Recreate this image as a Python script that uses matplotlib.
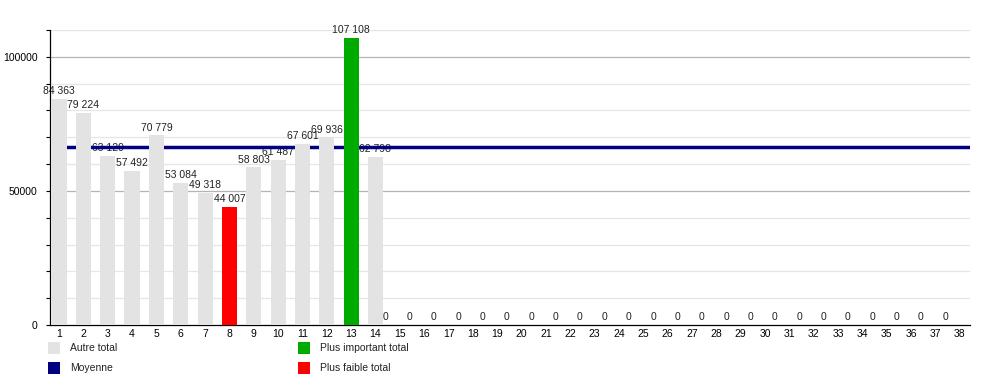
import matplotlib
matplotlib.use("Agg")
import matplotlib.pyplot as plt
from matplotlib.patches import Rectangle
import numpy as np

plt.rcParams["font.family"] = ["Liberation Sans", "DejaVu Sans"]

categories = list(range(1, 39))
totaux = [84363, 79224, 63129, 57492, 70779, 53084, 49318, 44007, 58803,
          61487, 67601, 69936, 107108, 62798] + [0] * 24
labels_legende = ["Autre total", "Moyenne", "Plus important total", "Plus faible total"]

GRIS = "#e3e3e3"
VERT = "#00aa00"
ROUGE = "#ff0000"
BLEU = "#000080"


def fmt(v):
    return f"{v:,}".replace(",", " ")


def main():
    x = np.array(categories)
    vals = np.array(totaux)
    non_nuls = vals[vals > 0]
    moyenne = non_nuls.mean()

    couleurs = [GRIS] * len(vals)
    couleurs[int(np.argmax(vals))] = VERT
    couleurs[int(np.argmin(np.where(vals > 0, vals, np.inf)))] = ROUGE

    fig = plt.figure(figsize=(10, 3.75), dpi=100)
    ax = fig.add_axes([0.05, 0.1333, 0.92, 0.7867])

    # grille
    for y in range(10000, 110001, 10000):
        major = y % 50000 == 0
        ax.axhline(y, color="#b4b4b4" if major else "#e6e6e6", lw=0.9, zorder=0)

    ax.axhline(moyenne, color=BLEU, lw=2.5, zorder=2)
    ax.bar(x, vals, width=0.62, color=couleurs, zorder=3)

    for xi, v in zip(x, vals):
        if v > 0:
            ax.text(xi, v + 1000, fmt(v), ha="center", va="bottom", fontsize=7.5,
                    color="#222222", zorder=1)
        else:
            ax.text(xi - 0.6, 1000, "0", ha="center", va="bottom", fontsize=7.5,
                    color="#222222", zorder=1)

    ax.set_xlim(0.63, 38.42)
    ax.set_ylim(0, 110000)
    ax.set_xticks(x)
    ax.set_xticklabels([str(c) for c in categories], fontsize=7.5)
    ax.tick_params(axis="x", length=0, pad=3)
    ax.set_yticks([0, 50000, 100000])
    ax.set_yticklabels(["0", "50000", "100000"], fontsize=7.5)
    ax.set_yticks(range(0, 110001, 10000), minor=True)
    ax.tick_params(axis="y", which="both", length=3, width=0.8, pad=6)
    for s in ["top", "right"]:
        ax.spines[s].set_visible(False)
    ax.spines["left"].set_linewidth(0.9)
    ax.spines["bottom"].set_linewidth(0.9)

    # légende
    items = [
        (0.048, 0.056, GRIS, labels_legende[0]),
        (0.048, 0.003, BLEU, labels_legende[1]),
        (0.298, 0.056, VERT, labels_legende[2]),
        (0.298, 0.003, ROUGE, labels_legende[3]),
    ]
    for lx, ly, c, lab in items:
        fig.add_artist(Rectangle((lx, ly), 0.012, 0.032, transform=fig.transFigure,
                                 facecolor=c, edgecolor="none"))
        fig.text(lx + 0.022, ly + 0.016, lab, va="center", ha="left", fontsize=7.5,
                 color="#222222")

    fig.savefig("out.png", dpi=100)
    plt.close(fig)


if __name__ == "__main__":
    main()
